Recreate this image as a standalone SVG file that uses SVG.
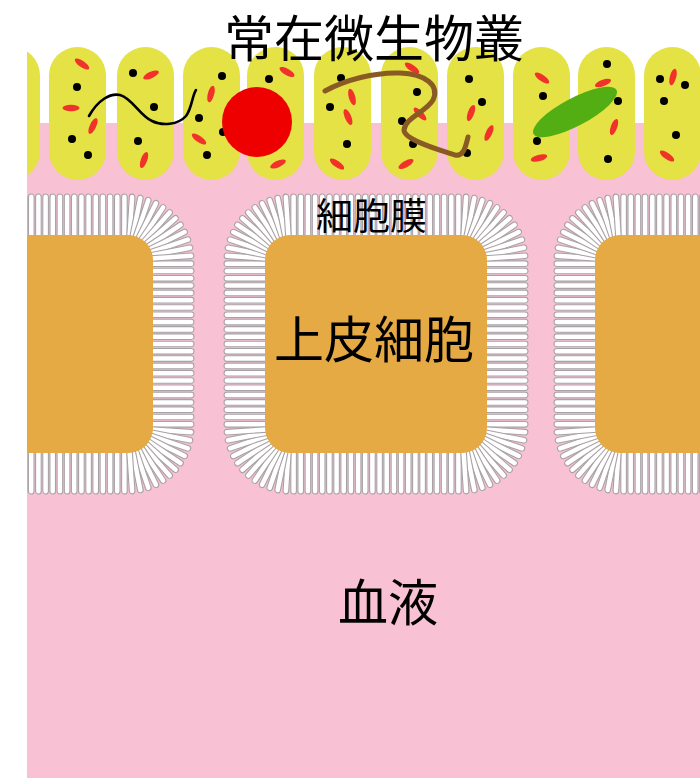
<svg xmlns="http://www.w3.org/2000/svg" xmlns:xlink="http://www.w3.org/1999/xlink" width="700" height="778" viewBox="0 0 700 778">
  <style>
    .pill { fill: #e4e244; }
    .dot { fill: #000; }
    .spot { fill: #f0322a; }
    .rod { fill: #fff; stroke: #a8a2a6; stroke-width: 1.1; }
    .cell { fill: #e5aa44; }
    .label { font-family: "Noto Sans CJK JP", "Noto Sans CJK SC", sans-serif; fill: #000; text-anchor: middle; }
  </style>
  <defs>
    <clipPath id="frame">
      <rect x="27" y="0" width="673" height="778"/>
    </clipPath>
    <!-- small elongated red particle -->
    <ellipse id="spot" class="spot" cx="0" cy="0" rx="8.5" ry="3.2"/>
    <!-- one lipid rod pointing up from an edge at y=0 -->
    <rect id="rodUp" class="rod" x="-2.8" y="-41" width="5.6" height="46" rx="2.8"/>
    <!-- one lipid rod pointing right from an edge at x=0 -->
    <rect id="rodRight" class="rod" x="-5" y="-2.8" width="46" height="5.6" rx="2.8"/>
    <!-- one lipid rod around a corner centre (radius 20..66) -->
    <rect id="rodFan" class="rod" x="-2.8" y="-66" width="5.6" height="46" rx="2.8"/>

    <!-- straight top edge of a 222x218 cell -->
    <g id="rowTop">
      <use href="#rodUp" x="28.6"/><use href="#rodUp" x="35.8"/><use href="#rodUp" x="42.9"/><use href="#rodUp" x="50.1"/>
      <use href="#rodUp" x="57.3"/><use href="#rodUp" x="64.4"/><use href="#rodUp" x="71.6"/><use href="#rodUp" x="78.8"/>
      <use href="#rodUp" x="85.9"/><use href="#rodUp" x="93.1"/><use href="#rodUp" x="100.3"/><use href="#rodUp" x="107.4"/>
      <use href="#rodUp" x="114.6"/><use href="#rodUp" x="121.8"/><use href="#rodUp" x="128.9"/><use href="#rodUp" x="136.1"/>
      <use href="#rodUp" x="143.3"/><use href="#rodUp" x="150.4"/><use href="#rodUp" x="157.6"/><use href="#rodUp" x="164.8"/>
      <use href="#rodUp" x="171.9"/><use href="#rodUp" x="179.1"/><use href="#rodUp" x="186.3"/><use href="#rodUp" x="193.4"/>
    </g>
    <!-- straight side edge (rods pointing right) -->
    <g id="colRight">
      <use href="#rodRight" y="28.7"/><use href="#rodRight" y="36.0"/><use href="#rodRight" y="43.3"/><use href="#rodRight" y="50.6"/>
      <use href="#rodRight" y="57.9"/><use href="#rodRight" y="65.2"/><use href="#rodRight" y="72.5"/><use href="#rodRight" y="79.8"/>
      <use href="#rodRight" y="87.1"/><use href="#rodRight" y="94.4"/><use href="#rodRight" y="101.7"/><use href="#rodRight" y="109.0"/>
      <use href="#rodRight" y="116.3"/><use href="#rodRight" y="123.6"/><use href="#rodRight" y="130.9"/><use href="#rodRight" y="138.2"/>
      <use href="#rodRight" y="145.5"/><use href="#rodRight" y="152.8"/><use href="#rodRight" y="160.1"/><use href="#rodRight" y="167.4"/>
      <use href="#rodRight" y="174.7"/><use href="#rodRight" y="182.0"/><use href="#rodRight" y="189.3"/>
    </g>
    <!-- quarter fan for the top-right corner, centred at origin -->
    <g id="fan">
      <use href="#rodFan" transform="rotate(3.75)"/><use href="#rodFan" transform="rotate(11.25)"/>
      <use href="#rodFan" transform="rotate(18.75)"/><use href="#rodFan" transform="rotate(26.25)"/>
      <use href="#rodFan" transform="rotate(33.75)"/><use href="#rodFan" transform="rotate(41.25)"/>
      <use href="#rodFan" transform="rotate(48.75)"/><use href="#rodFan" transform="rotate(56.25)"/>
      <use href="#rodFan" transform="rotate(63.75)"/><use href="#rodFan" transform="rotate(71.25)"/>
      <use href="#rodFan" transform="rotate(78.75)"/><use href="#rodFan" transform="rotate(86.25)"/>
    </g>
    <!-- full membrane ring around a 222x218 cell with corner radius 25 -->
    <g id="membrane">
      <use href="#rowTop"/>
      <use href="#rowTop" transform="rotate(180 111 109)"/>
      <use href="#colRight" x="222"/>
      <use href="#colRight" transform="scale(-1 1)"/>
      <use href="#fan" transform="translate(197 25)"/>
      <use href="#fan" transform="translate(197 193) rotate(90)"/>
      <use href="#fan" transform="translate(25 193) rotate(180)"/>
      <use href="#fan" transform="translate(25 25) rotate(270)"/>
    </g>
  </defs>

  <rect width="700" height="778" fill="#fff"/>

  <g clip-path="url(#frame)">
    <!-- blood / tissue background -->
    <rect id="tissue" x="27" y="123" width="673" height="655" fill="#f8c1d4"/>

    <!-- villi -->
    <g id="villi">
      <rect class="pill" x="-17" y="47" width="57" height="133" rx="28.5"/>
      <rect class="pill" x="49" y="47" width="57" height="133" rx="28.5"/>
      <rect class="pill" x="117" y="47" width="57" height="133" rx="28.5"/>
      <rect class="pill" x="183" y="47" width="57" height="133" rx="28.5"/>
      <rect class="pill" x="247" y="47" width="57" height="133" rx="28.5"/>
      <rect class="pill" x="314" y="47" width="57" height="133" rx="28.5"/>
      <rect class="pill" x="381" y="47" width="57" height="133" rx="28.5"/>
      <rect class="pill" x="447" y="47" width="57" height="133" rx="28.5"/>
      <rect class="pill" x="513" y="47" width="57" height="133" rx="28.5"/>
      <rect class="pill" x="578" y="47" width="57" height="133" rx="28.5"/>
      <rect class="pill" x="644" y="47" width="57" height="133" rx="28.5"/>
    </g>

    <!-- red particles -->
    <g id="particles">
      <use href="#spot" transform="translate(82 64) rotate(35)"/>
      <use href="#spot" transform="translate(71 108) rotate(0)"/>
      <use href="#spot" transform="translate(93 126) rotate(-65)"/>
      <use href="#spot" transform="translate(151 75) rotate(-25)"/>
      <use href="#spot" transform="translate(144 160) rotate(-70)"/>
      <use href="#spot" transform="translate(211 94) rotate(-75)"/>
      <use href="#spot" transform="translate(199 139) rotate(35)"/>
      <use href="#spot" transform="translate(287 72) rotate(30)"/>
      <use href="#spot" transform="translate(278 164) rotate(-25)"/>
      <use href="#spot" transform="translate(352 97) rotate(74)"/>
      <use href="#spot" transform="translate(348 117) rotate(67)"/>
      <use href="#spot" transform="translate(337 164) rotate(35)"/>
      <use href="#spot" transform="translate(412 68) rotate(35)"/>
      <use href="#spot" transform="translate(420 114) rotate(45)"/>
      <use href="#spot" transform="translate(406 164) rotate(-30)"/>
      <use href="#spot" transform="translate(471 113) rotate(-70)"/>
      <use href="#spot" transform="translate(489 133) rotate(-65)"/>
      <use href="#spot" transform="translate(542 78) rotate(35)"/>
      <use href="#spot" transform="translate(539 158) rotate(-15)"/>
      <use href="#spot" transform="translate(603 83) rotate(-20)"/>
      <use href="#spot" transform="translate(614 127) rotate(-70)"/>
      <use href="#spot" transform="translate(673 77) rotate(-75)"/>
      <use href="#spot" transform="translate(667 156) rotate(35)"/>
    </g>

    <!-- black granules -->
    <g id="granules" class="dot">
      <circle cx="77" cy="87" r="4"/><circle cx="72" cy="139" r="4"/><circle cx="88" cy="155" r="4"/>
      <circle cx="133" cy="73" r="4"/><circle cx="154" cy="107" r="4"/><circle cx="138" cy="141" r="4"/>
      <circle cx="222" cy="76" r="4"/><circle cx="199" cy="118" r="4"/><circle cx="207" cy="155" r="4"/>
      <circle cx="223" cy="132" r="4"/><circle cx="269" cy="79" r="4"/>
      <circle cx="341" cy="78" r="4"/><circle cx="330" cy="107" r="4"/><circle cx="347" cy="144" r="4"/>
      <circle cx="417" cy="92" r="4"/><circle cx="402" cy="121" r="4"/><circle cx="413" cy="144" r="4"/>
      <circle cx="469" cy="79" r="4"/><circle cx="482" cy="102" r="4"/><circle cx="467" cy="153" r="4"/>
      <circle cx="543" cy="96" r="4"/><circle cx="537" cy="141" r="4"/>
      <circle cx="607" cy="64" r="4"/><circle cx="618" cy="101" r="4"/><circle cx="608" cy="159" r="4"/>
      <circle cx="660" cy="79" r="4"/><circle cx="685" cy="85" r="4"/><circle cx="664" cy="101" r="4"/>
      <circle cx="676" cy="135" r="4"/>
    </g>

    <!-- microbes -->
    <g id="microbes">
      <path id="spirochete" d="M89,116 C98,100 110,93 120,95 C132,98 140,116 152,121 C162,126 178,125 186,116 C192,108 192,96 196,90" fill="none" stroke="#000" stroke-width="2.6" stroke-linecap="round"/>
      <circle id="coccus" cx="257" cy="122" r="35" fill="#ee0000"/>
      <path id="filament" d="M325,91 C345,80 375,72 400,73 C425,74 440,85 433,100 C426,112 405,118 404,130 C404,140 440,150 455,155 C464,157 466,145 468,137" fill="none" stroke="#8a5a24" stroke-width="5" stroke-linecap="round" stroke-linejoin="round"/>
      <ellipse id="bacillus" cx="575" cy="112" rx="47" ry="14" fill="#52ae12" transform="rotate(-28 575 112)"/>
    </g>

    <!-- epithelial cells with membranes -->
    <g id="cell-left" transform="translate(-69 235)">
      <use href="#membrane"/>
      <rect class="cell" width="222" height="218" rx="25"/>
    </g>
    <g id="cell-middle" transform="translate(265 235)">
      <use href="#membrane"/>
      <rect class="cell" width="222" height="218" rx="25"/>
    </g>
    <g id="cell-right" transform="translate(595 235)">
      <use href="#membrane"/>
      <rect class="cell" width="222" height="218" rx="25"/>
    </g>
  </g>

  <!-- labels -->
  <g id="labels">
    <text class="label" x="374" y="57" font-size="50">常在微生物叢</text>
    <text class="label" x="371.5" y="230" font-size="37">細胞膜</text>
    <text class="label" x="374" y="358" font-size="50">上皮細胞</text>
    <text class="label" x="388" y="621" font-size="50">血液</text>
  </g>
</svg>
